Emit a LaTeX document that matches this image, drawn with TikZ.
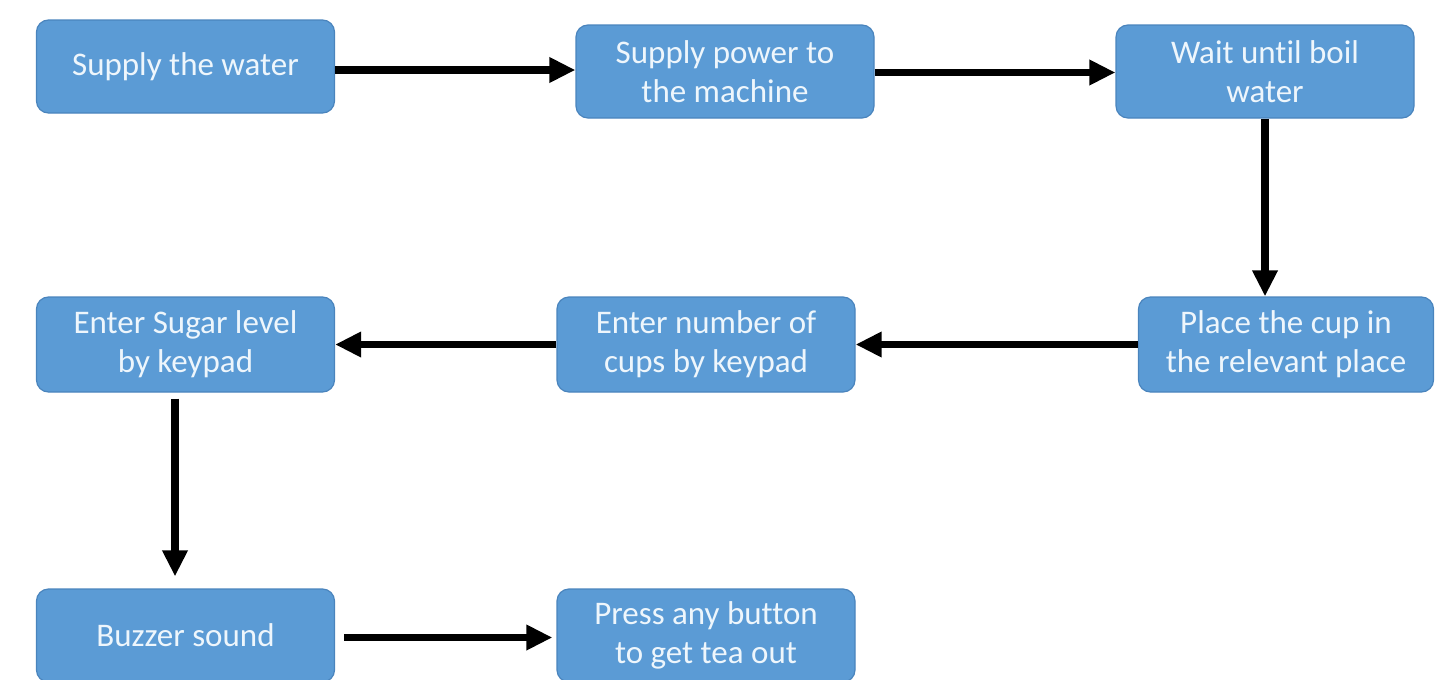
\documentclass[tikz,border=0pt]{standalone}
\usepackage{fontspec}
\setmainfont[Ligatures=NoCommon]{Carlito}
\usetikzlibrary{arrows.meta}
\definecolor{boxfill}{HTML}{5B9BD5}
\definecolor{boxline}{HTML}{4A84BD}
\definecolor{boxtext}{HTML}{EEF6FC}
\tikzset{
  stepbox/.style={draw=boxline, line width=0.6pt, fill=boxfill, rounded corners=6pt,
    minimum width=149pt, minimum height=46.5pt, inner sep=2pt, align=center,
    text=boxtext, font=\fontsize{16.5}{19.5}\selectfont},
  flow/.style={line width=3.6pt, -{Triangle[length=13pt,width=12pt]}}
}
\begin{document}
\begin{tikzpicture}[x=0.5pt,y=-0.5pt]
\useasboundingbox (0,0) rectangle (1435,680);
\node[stepbox] (n1) at (185.5,66.5) {\raisebox{-1pt}{Supply the water}};
\node[stepbox] (n2) at (725,71.5) {Supply power to\\the machine};
\node[stepbox] (n3) at (1265,71.5) {Wait until boil\\water};
\node[stepbox, minimum width=147.5pt, minimum height=47.5pt] (n4) at (1286,344.5) {Place the cup in\\the relevant place};
\node[stepbox, minimum height=47.5pt] (n5) at (706,344.5) {Enter number of\\cups by keypad};
\node[stepbox, minimum height=47.5pt] (n6) at (185.5,344.5) {Enter Sugar level\\by keypad};
\node[stepbox] (n7) at (185.5,635.5) {Buzzer sound};
\node[stepbox] (n8) at (706,635.5) {Press any button\\to get tea out};
\coordinate (c1) at ([yshift=-1.75pt]n1.east);
\draw[flow] (c1) -- (c1 -| n2.west);
\draw[flow] ([yshift=-0.5pt]n2.east) -- ([yshift=-0.5pt]n3.west);
\draw[flow] (n3.south) -- (n3.south |- n4.north);
\draw[flow] (n4.west) -- (n5.east);
\draw[flow] (n5.west) -- (n6.east);
\coordinate (c6) at ([xshift=-5.25pt,yshift=-3pt]n6.south);
\draw[flow] (c6) -- ([yshift=6pt]c6 |- n7.north);
\coordinate (c7) at ([xshift=4.5pt,yshift=-1pt]n7.east);
\draw[flow] (c7) -- ([xshift=-2pt]c7 -| n8.west);
\end{tikzpicture}
\end{document}
